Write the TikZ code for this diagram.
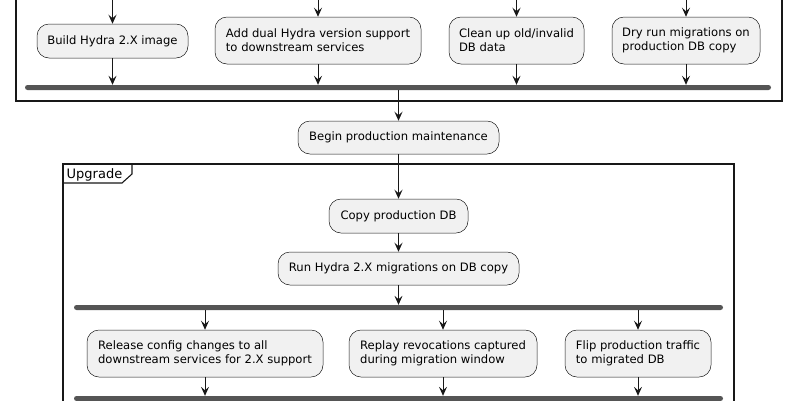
\documentclass[tikz,border=0pt]{standalone}
\usepackage{fontspec}
\setmainfont{DejaVu Sans}
\usetikzlibrary{arrows.meta}
\definecolor{boxfill}{HTML}{F1F1F1}
\definecolor{ink}{HTML}{181818}
\definecolor{barc}{HTML}{555555}
\tikzset{
  act/.style={draw=ink, line width=0.5pt, fill=boxfill, rounded corners=12pt,
    align=left, font=\fontsize{11.6}{14}\selectfont, inner sep=0pt},
  forkbar/.style={fill=barc, draw=none, rounded corners=2.5pt, minimum height=5pt, inner sep=0pt},
  arr/.style={draw=ink, line width=0.9pt, -{Stealth[length=9pt,width=8pt,inset=3.5pt]}},
  frm/.style={draw=ink, line width=1.4pt},
}
\begin{document}
\begin{tikzpicture}[x=1pt,y=-1pt]
\useasboundingbox (0,0) rectangle (800,400);
\fill[white] (0,0) rectangle (800,400);
\clip (0,0) rectangle (800,400);
% outer frame
\draw[frm] (16,-10) rectangle (782,101);
% top boxes
\node[act, minimum width=151pt, minimum height=34pt] (b1) at (112.5,41) {Build Hydra 2.X image};
\node[act, minimum width=206pt, minimum height=47pt] (b2) at (318,40.5) {Add dual Hydra version support\\to downstream services};
\node[act, minimum width=135pt, minimum height=47pt] (b3) at (516.5,40.5) {Clean up old/invalid\\DB data};
\node[act, minimum width=148pt, minimum height=47pt] (b4) at (686,40.5) {Dry run migrations on\\production DB copy};
\coordinate (t1) at (112.5,-5);
\coordinate (t2) at (318,-5);
\coordinate (t3) at (516.5,-5);
\coordinate (t4) at (686,-5);
\node[forkbar, minimum width=746pt] (bar1) at (398,87.5) {};
\foreach \i in {1,2,3,4} {
  \draw[arr] (t\i) -- (b\i.north);
  \draw[arr] (b\i.south) -- (b\i.south |- bar1.north);
}
% begin
\node[act, minimum width=201pt, minimum height=33pt] (begin) at (398.5,137.5) {Begin production maintenance};
\draw[arr] (bar1.south -| begin.north) -- (begin.north);
% upgrade frame
\draw[frm] (63,164) rectangle (734,420);
\draw[frm, line width=1.1pt] (63,183) -- (122,183) -- (132,174) -- (132,164);
\node[anchor=base west, font=\fontsize{13}{15}\selectfont, inner sep=0pt] (uplabel) at (66.5,178) {Upgrade};
\node[act, minimum width=139pt, minimum height=34pt] (copy) at (398.5,216) {Copy production DB};
\node[act, minimum width=241pt, minimum height=33pt] (run) at (398.5,268.5) {Run Hydra 2.X migrations on DB copy};
\draw[arr] (begin.south) -- (copy.north);
\draw[arr] (copy.south) -- (run.north);
\node[forkbar, minimum width=649pt] (bar2) at (398.5,307.5) {};
\draw[arr] (run.south) -- (run.south |- bar2.north);
\node[act, minimum width=236pt, minimum height=47pt] (r1) at (205,353.5) {Release config changes to all\\downstream services for 2.X support};
\node[act, minimum width=188pt, minimum height=47pt] (r2) at (443,353.5) {Replay revocations captured\\during migration window};
\node[act, minimum width=146pt, minimum height=47pt] (r3) at (638,353.5) {Flip production traffic\\to migrated DB};
\node[forkbar, minimum width=649pt] (bar3) at (398.5,398.5) {};
\foreach \i in {1,2,3} {
  \draw[arr] (bar2.south -| r\i.north) -- (r\i.north);
  \draw[arr] (r\i.south) -- (r\i.south |- bar3.north);
}
\end{tikzpicture}
\end{document}
